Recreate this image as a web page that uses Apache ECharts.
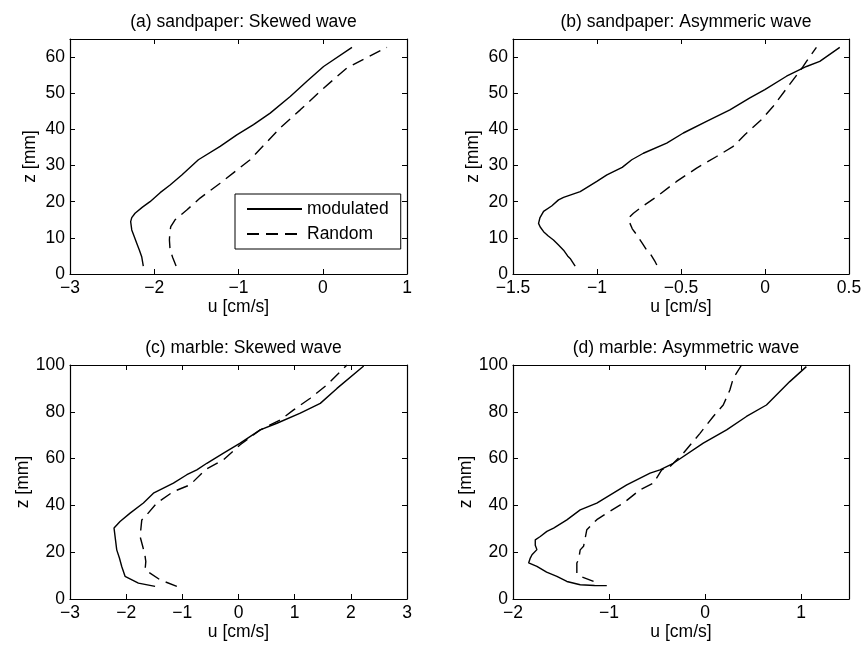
<!DOCTYPE html>
<html><head><meta charset="utf-8">
<script src="https://cdn.jsdelivr.net/npm/echarts@6/dist/echarts.min.js"></script>
<style>html,body{margin:0;padding:0;background:#fff}#c{width:867px;height:653px}</style>
</head><body><div id="c"></div>
<script>
const titles = ["(a) sandpaper: Skewed wave", "(b) sandpaper: Asymmeric wave", "(c) marble: Skewed wave", "(d) marble: Asymmetric wave"];
const seriesNames = ["modulated", "Random"];
const xName = "u [cm/s]";
const yName = "z [mm]";

// (a) sandpaper skewed
const aModU = [-2.130,-2.149,-2.175,-2.208,-2.240,-2.267,-2.280,-2.267,-2.228,-2.140,-2.050,-1.930,-1.812,-1.673,-1.476,-1.218,-1.020,-0.822,-0.624,-0.386,-0.188,0.010,0.347];
const aModZ = [2.2,4.8,6.5,8.5,10.5,12.2,14.5,15.6,16.8,18.5,20.0,22.5,24.6,27.4,31.6,35.3,38.5,41.3,44.5,49.1,53.3,57.4,62.7];
const aRndU = [-1.741,-1.780,-1.812,-1.820,-1.815,-1.804,-1.753,-1.614,-1.456,-1.218,-0.862,-0.505,-0.267,0.010,0.287,0.762];
const aRndZ = [2.2,4.5,6.6,9.4,11.5,13.1,15.0,17.7,21.0,25.1,31.6,40.4,45.4,51.4,57.0,62.7];
// (b) sandpaper asymmetric
const bModU = [-1.130,-1.160,-1.175,-1.199,-1.229,-1.259,-1.290,-1.318,-1.338,-1.348,-1.340,-1.318,-1.270,-1.229,-1.199,-1.100,-1.001,-0.941,-0.850,-0.793,-0.724,-0.585,-0.486,-0.348,-0.209,-0.090,-0.001,0.128,0.247,0.326,0.445];
const bModZ = [2.2,4.3,5.0,6.6,8.0,9.4,10.5,11.7,13.0,14.0,15.5,17.3,18.8,20.5,21.2,22.8,25.6,27.4,29.5,31.6,33.4,36.2,39.0,42.2,45.4,48.7,51.0,54.7,57.4,58.8,62.7];
const bRndU = [-0.644,-0.654,-0.684,-0.704,-0.730,-0.763,-0.790,-0.813,-0.803,-0.783,-0.744,-0.645,-0.526,-0.407,-0.288,-0.189,-0.120,-0.021,0.049,0.138,0.227,0.247,0.306];
const bRndZ = [2.5,3.4,5.7,6.6,8.5,10.8,12.5,15.0,15.9,16.8,18.2,21.4,25.6,29.3,32.5,35.3,38.5,42.7,46.4,51.9,57.4,58.8,62.7];
// (c) marble skewed
const cModU = [-1.485,-1.782,-2.020,-2.079,-2.120,-2.168,-2.190,-2.216,-2.228,-2.109,-1.930,-1.693,-1.515,-1.159,-0.920,-0.742,-0.564,-0.267,0.030,0.387,0.684,1.100,1.456,1.753,2.229];
const cModZ = [5.4,6.8,9.7,13.9,17.5,21.0,25.3,30.3,31.0,33.1,36.7,41.0,45.2,49.5,53.1,55.2,58.0,62.3,66.6,72.3,75.1,79.4,83.6,90.0,99.6];
const cRndU = [-1.098,-1.396,-1.663,-1.650,-1.663,-1.700,-1.752,-1.722,-1.633,-1.455,-1.159,-0.861,-0.593,-0.267,0.030,0.387,0.743,0.981,1.278,1.575,1.932];
const cRndZ = [5.4,8.2,12.5,16.0,18.2,22.0,26.7,33.8,36.0,41.0,45.9,48.8,55.2,59.5,65.9,72.3,76.5,80.8,85.8,91.5,100];
// (d) marble asymmetric
const dModU = [-1.023,-1.150,-1.300,-1.439,-1.543,-1.650,-1.751,-1.733,-1.837,-1.820,-1.802,-1.751,-1.768,-1.768,-1.716,-1.647,-1.577,-1.439,-1.300,-1.127,-0.815,-0.572,-0.469,-0.330,-0.018,0.225,0.432,0.640,0.883,1.056];
const dModZ = [5.7,5.8,6.1,7.5,9.7,11.5,13.9,14.7,15.4,17.5,18.9,21.1,23.0,25.3,26.7,28.9,30.3,33.8,38.1,41.0,48.8,53.8,55.2,58.0,66.6,72.3,78.0,82.9,92.9,99.3];
const dRndU = [-1.161,-1.300,-1.335,-1.335,-1.317,-1.300,-1.265,-1.248,-1.231,-1.214,-1.127,-1.023,-0.850,-0.676,-0.538,-0.451,-0.365,-0.226,-0.052,0.086,0.190,0.259,0.294,0.381];
const dRndZ = [7.5,9.7,11.1,15.4,16.8,21.0,22.5,26.0,29.6,30.3,33.9,36.7,41.0,46.7,49.5,55.2,56.6,62.3,70.8,78.0,82.9,89.3,94.3,100];

const xRanges = [[-3,1,1],[-1.5,0.5,0.5],[-3,3,1],[-2,1.5,1]];
const yRanges = [[0,65,10],[0,65,10],[0,100,20],[0,100,20]];

const FONT = "'Liberation Sans', Arial, Helvetica, sans-serif";
const FS = 17.5;
const zip = (u, z) => u.map((v, i) => [v, z[i]]);
const fmt = v => String(v).replace('-', '\u2212');

const grids = [
  {left: 70, top: 39, width: 337, height: 235},
  {left: 513, top: 39, width: 336, height: 235},
  {left: 70, top: 365, width: 337, height: 234},
  {left: 513, top: 365, width: 336, height: 234}
];
const panelData = [
  [zip(aModU, aModZ), zip(aRndU, aRndZ)],
  [zip(bModU, bModZ), zip(bRndU, bRndZ)],
  [zip(cModU, cModZ), zip(cRndU, cRndZ)],
  [zip(dModU, dModZ), zip(dRndU, dRndZ)]
];

const xAxis = [], yAxis = [], series = [], title = [];
grids.forEach((g, i) => {
  const [x0, x1, xi] = xRanges[i];
  const [y0, y1, yi] = yRanges[i];
  const line = {show: true, onZero: false, lineStyle: {color: '#000', width: 1.2}};
  const tick = {show: true, inside: true, length: 5, lineStyle: {color: '#000', width: 1}};
  xAxis.push({type: 'value', gridIndex: i, position: 'bottom', min: x0, max: x1, interval: xi,
    axisLine: line, axisTick: tick, splitLine: {show: false},
    axisLabel: {color: '#000', fontFamily: FONT, fontSize: FS, margin: 5, formatter: fmt, showMaxLabel: (x1 / xi) % 1 === 0},
    name: xName, nameLocation: 'middle', nameGap: 23,
    nameTextStyle: {color: '#000', fontFamily: FONT, fontSize: FS}});
  xAxis.push({type: 'value', gridIndex: i, position: 'top', min: x0, max: x1, interval: xi,
    axisLine: line, axisTick: tick, splitLine: {show: false}, axisLabel: {show: false}});
  yAxis.push({type: 'value', gridIndex: i, position: 'left', min: y0, max: y1, interval: yi,
    axisLine: line, axisTick: tick, splitLine: {show: false},
    axisLabel: {color: '#000', fontFamily: FONT, fontSize: FS, margin: 5, formatter: fmt, showMaxLabel: (y1 / yi) % 1 === 0},
    name: yName, nameLocation: 'middle', nameGap: 31, nameRotate: 90,
    nameTextStyle: {color: '#000', fontFamily: FONT, fontSize: FS}});
  yAxis.push({type: 'value', gridIndex: i, position: 'right', min: y0, max: y1, interval: yi,
    axisLine: line, axisTick: tick, splitLine: {show: false}, axisLabel: {show: false}});
  title.push({text: titles[i], left: g.left + g.width / 2, top: g.top - 31, textAlign: 'center',
    textStyle: {color: '#000', fontFamily: FONT, fontSize: FS, fontWeight: 'normal'}});
  panelData[i].forEach((d, k) => {
    series.push({type: 'line', name: seriesNames[k], xAxisIndex: 2 * i, yAxisIndex: 2 * i,
      data: d, symbol: 'none', smooth: false, silent: true, animation: false,
      lineStyle: {color: '#000', width: 1.4, type: k === 0 ? 'solid' : [12, 7]},
      itemStyle: {color: '#000'}});
  });
});

const chart = echarts.init(document.getElementById('c'), null, {renderer: 'canvas'});
chart.setOption({
  backgroundColor: '#fff',
  animation: false,
  title: title,
  grid: grids,
  xAxis: xAxis,
  yAxis: yAxis,
  legend: {
    data: seriesNames, orient: 'vertical', left: 235, top: 194,
    itemWidth: 55, itemHeight: 14, itemGap: 7,
    padding: [6, 12, 6, 11], borderColor: '#000', borderWidth: 1, backgroundColor: '#fff',
    itemStyle: {opacity: 0},
    textStyle: {color: '#000', fontFamily: FONT, fontSize: FS, lineHeight: 18},
    selectedMode: false
  },
  series: series
});
</script></body></html>
